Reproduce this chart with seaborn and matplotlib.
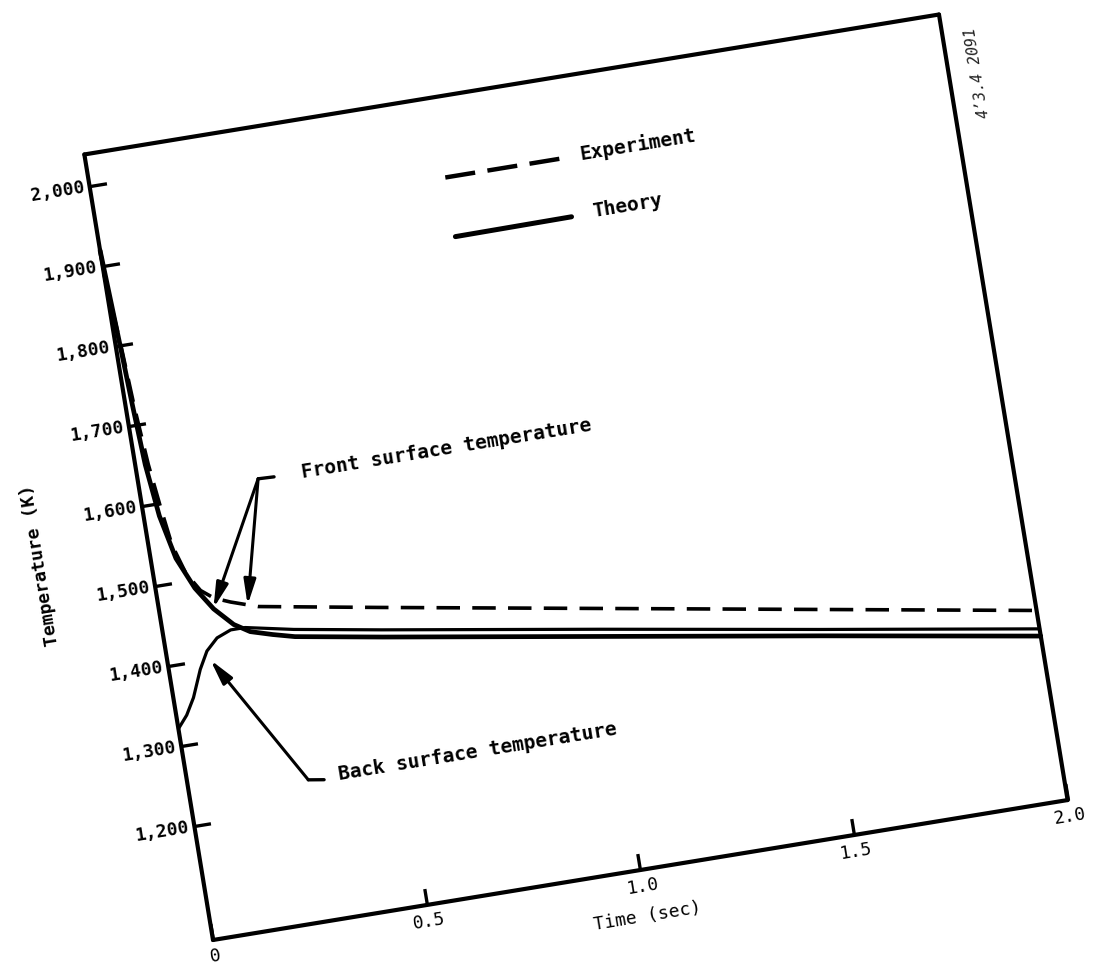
import numpy as np
import pandas as pd
import matplotlib
matplotlib.use("Agg")
import matplotlib.pyplot as plt
import seaborn as sns
from matplotlib.transforms import Affine2D
from mpl_toolkits.axisartist import floating_axes
from mpl_toolkits.axisartist.grid_finder import FixedLocator, DictFormatter

front_theory_t = [0.0, 0.006, 0.011, 0.016, 0.023, 0.036, 0.058, 0.09, 0.125, 0.165, 0.2, 0.25, 0.3, 0.5, 1.0, 1.5, 2.0]
front_theory_T = [1920, 1850, 1790, 1725, 1650, 1585, 1530, 1490, 1461, 1438, 1426, 1418, 1411, 1393, 1350, 1307, 1263]

back_theory_t = [0.0, 0.024, 0.046, 0.072, 0.094, 0.122, 0.156, 0.19, 0.3, 0.5, 1.0, 1.5, 2.0]
back_theory_T = [1322, 1337, 1357, 1390, 1411, 1425, 1432, 1432, 1420, 1402, 1359, 1315, 1272]

front_exp_t = [0.0, 0.012, 0.02, 0.03, 0.042, 0.054, 0.075, 0.102, 0.13, 0.166, 0.227, 0.5, 1.0, 1.5, 2.0]
front_exp_T = [1890, 1800, 1720, 1650, 1595, 1547, 1510, 1486, 1474, 1466, 1455, 1430, 1385, 1340, 1295]

x_ticks = [0.0, 0.5, 1.0, 1.5, 2.0]
x_tick_labels = ["0", "0.5", "1.0", "1.5", "2.0"]
y_ticks = [1200, 1300, 1400, 1500, 1600, 1700, 1800, 1900, 2000]
y_tick_labels = ["1,200", "1,300", "1,400", "1,500", "1,600", "1,700", "1,800", "1,900", "2,000"]
t_limits = (0.0, 2.0)
T_limits = (1058, 2040)

# ---------------- style ----------------
sns.set_style("white")
plt.rcParams["font.family"] = ["DejaVu Sans Mono", "DejaVu Sans"]
plt.rcParams["text.color"] = "black"

tilt = 9.3            # the scanned frame is rotated counter-clockwise
W_px, H_px = 866, 796  # frame size in pixels

tr = (Affine2D()
      .translate(0, -T_limits[0])
      .scale(W_px / (t_limits[1] - t_limits[0]), H_px / (T_limits[1] - T_limits[0]))
      .rotate_deg(tilt))

grid_helper = floating_axes.GridHelperCurveLinear(
    tr,
    extremes=(t_limits[0], t_limits[1], T_limits[0], T_limits[1]),
    grid_locator1=FixedLocator(x_ticks),
    tick_formatter1=DictFormatter(dict(zip(x_ticks, x_tick_labels))),
    grid_locator2=FixedLocator(y_ticks),
    tick_formatter2=DictFormatter(dict(zip(y_ticks, y_tick_labels))),
)

# bounding box of the rotated frame (pixels), expanded 2% as FloatingAxes does
c, s = np.cos(np.radians(tilt)), np.sin(np.radians(tilt))
bw, bh = (W_px * c + H_px * s) * 1.02, (W_px * s + H_px * c) * 1.02
x0_px, y0_px = 213, 940  # lower-left corner of the frame on the page
cx = x0_px + (W_px * c - H_px * s) / 2
cy = y0_px - (W_px * s + H_px * c) / 2
FW, FH = 1103, 969

fig = plt.figure(figsize=(FW / 100, FH / 100), dpi=100)
fig.patch.set_facecolor("white")
ax = fig.add_axes([(cx - bw / 2) / FW, (FH - (cy + bh / 2)) / FH, bw / FW, bh / FH],
                  axes_class=floating_axes.FloatingAxes, grid_helper=grid_helper)
aux = ax.get_aux_axes(tr)

# frame styling
for side in ["left", "bottom", "top", "right"]:
    ax.axis[side].line.set_linewidth(3.0)
    ax.axis[side].line.set_color("black")
for side in ["top", "right"]:
    ax.axis[side].toggle(ticks=False, ticklabels=False, label=False)
for side in ["left", "bottom"]:
    ax.axis[side].major_ticks.set_ticksize(12)
    ax.axis[side].major_ticks.set_markeredgewidth(2.4)
    ax.axis[side].major_ticks.set_color("black")

ax.axis["left"].major_ticklabels.set_fontsize(13)
ax.axis["left"].major_ticklabels.set_fontweight("bold")
ax.axis["left"].major_ticklabels.set_pad(4)
ax.axis["left"].major_ticklabels.set_color("black")
ax.axis["bottom"].major_ticklabels.set_fontsize(13)
ax.axis["bottom"].major_ticklabels.set_pad(6)
ax.axis["bottom"].major_ticklabels.set_color("black")

ax.axis["left"].label.set_text("Temperature (K)")
ax.axis["left"].label.set_fontsize(13)
ax.axis["left"].label.set_fontweight("bold")
ax.axis["left"].label.set_pad(30)
ax.axis["left"].label.set_color("black")
ax.axis["bottom"].label.set_text("Time (sec)")
ax.axis["bottom"].label.set_fontsize(13)
ax.axis["bottom"].label.set_pad(12)
ax.axis["bottom"].label.set_color("black")

# ---------------- curves ----------------
df_ft = pd.DataFrame({"t": front_theory_t, "T": front_theory_T})
df_bt = pd.DataFrame({"t": back_theory_t, "T": back_theory_T})
df_fe = pd.DataFrame({"t": front_exp_t, "T": front_exp_T})

sns.lineplot(data=df_ft, x="t", y="T", ax=aux, color="black", linewidth=3.4,
             sort=False, estimator=None, legend=False)
sns.lineplot(data=df_bt, x="t", y="T", ax=aux, color="black", linewidth=2.3,
             sort=False, estimator=None, legend=False)
sns.lineplot(data=df_fe, x="t", y="T", ax=aux, color="black", linewidth=2.6,
             linestyle=(0, (6.5, 3.4)), sort=False, estimator=None, legend=False)

# ---------------- key ----------------
aux.plot([0.814, 1.086], [1940, 1940], color="black", lw=3.2, linestyle=(0, (6.8, 2.8)))
aux.text(1.13, 1941, "Experiment", rotation=tilt, rotation_mode="anchor",
         ha="left", va="center", fontsize=14, fontweight="bold")
aux.plot([0.815, 1.087], [1866, 1867], color="black", lw=3.6)
aux.text(1.137, 1869, "Theory", rotation=tilt, rotation_mode="anchor",
         ha="left", va="center", fontsize=14, fontweight="bold")

# ---------------- annotations ----------------
arrow_kw = dict(arrowstyle="-|>,head_length=0.75,head_width=0.18", color="black",
                lw=2.2, shrinkA=0, shrinkB=0, mutation_scale=20)

aux.text(0.376, 1610, "Front surface temperature", rotation=tilt, rotation_mode="anchor",
         ha="left", va="center", fontsize=14, fontweight="bold")
aux.plot([0.312, 0.275], [1609.7, 1610.5], color="black", lw=2.4)
for tip in [(0.125, 1462), (0.204, 1459)]:
    aux.annotate("", xy=tip, xytext=(0.275, 1610.5), arrowprops=arrow_kw)

aux.text(0.348, 1234, "Back surface temperature", rotation=tilt, rotation_mode="anchor",
         ha="left", va="center", fontsize=14, fontweight="bold")
aux.plot([0.313, 0.277], [1231, 1234], color="black", lw=2.4)
aux.annotate("", xy=(0.0986, 1399.5), xytext=(0.277, 1234), arrowprops=arrow_kw)

# scanner stamp at the upper right
fig.text(0.886, 0.925, "4\u02bc3.4 2091", rotation=99, ha="center", va="center",
         fontsize=11, style="italic", color="#222222")

fig.savefig("out.png", dpi=100, facecolor="white")
